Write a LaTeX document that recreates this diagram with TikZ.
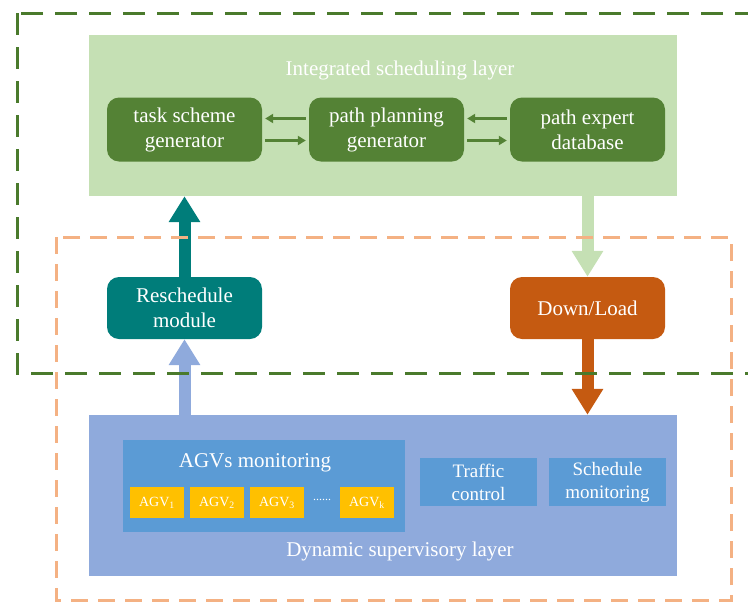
\documentclass[tikz,border=0pt]{standalone}
\usepackage{fontspec}
\setmainfont{Liberation Serif}
\newfontfamily\diagfont{Liberation Serif}
\usetikzlibrary{arrows.meta}
\definecolor{darkgreen}{HTML}{548235}
\definecolor{framegreen}{HTML}{4A7A2C}
\definecolor{palegreen}{HTML}{C5E0B4}
\definecolor{tealmod}{HTML}{007D7A}
\definecolor{burnt}{HTML}{C55A11}
\definecolor{peach}{HTML}{F4B183}
\definecolor{paleblue}{HTML}{8FAADC}
\definecolor{midblue}{HTML}{5B9BD5}
\definecolor{agvyellow}{HTML}{FFC000}
\tikzset{
  layer/.style={inner sep=0pt, minimum width=588pt, minimum height=161pt},
  module/.style={rounded corners=12pt, text=white, align=center, inner sep=0pt,
    minimum width=155pt, minimum height=64pt, font=\diagfont\fontsize{21}{25}\selectfont},
  subbox/.style={fill=midblue, text=white, align=center, inner sep=0pt},
  agvbox/.style={fill=agvyellow, text=white, inner sep=0pt, minimum width=54pt,
    minimum height=31pt, font=\diagfont\fontsize{14}{16}\selectfont},
  caption/.style={text=white, font=\diagfont\fontsize{21}{25}\selectfont},
  blockarrow/.style={line width=12pt, -{Triangle[length=26pt,width=30pt]}},
  linkarrow/.style={darkgreen, line width=2.5pt, -{Triangle[length=8pt,width=9pt]},
    shorten <=3pt, shorten >=3pt},
  frame/.style={line width=3pt}
}
\begin{document}
\begin{tikzpicture}[x=1pt, y=-1pt]
  \useasboundingbox (0,0) rectangle (748,603);
  \clip (0,0) rectangle (748,603);
  % integrated scheduling layer
  \node[layer, fill=palegreen] (intlayer) at (383,115.5) {};
  \node[caption] (inttitle) at (400,70) {Integrated scheduling layer};
  \node[module, fill=darkgreen] (task) at (184.5,129.5) {task scheme\\generator};
  \node[module, fill=darkgreen] (plan) at (386.5,129.5) {path planning\\generator};
  \node[module, fill=darkgreen] (base) at (587.5,129.5) {path expert\\database};
  \draw[linkarrow] ([yshift=11pt]plan.west) -- ([yshift=11pt]task.east);
  \draw[linkarrow] ([yshift=-11pt]task.east) -- ([yshift=-11pt]plan.west);
  \draw[linkarrow] ([yshift=11pt]base.west) -- ([yshift=11pt]plan.east);
  \draw[linkarrow] ([yshift=-11pt]plan.east) -- ([yshift=-11pt]base.west);
  % middle modules
  \node[module, fill=tealmod, minimum height=62pt] (resch) at (184.5,308) {Reschedule\\module};
  \node[module, fill=burnt, minimum height=62pt] (down) at (587.5,308) {Down/Load};
  % dynamic supervisory layer
  \node[layer, fill=paleblue] (dynlayer) at (383,495.5) {};
  \node[subbox, minimum width=282pt, minimum height=92pt] (agvmon) at (264,486) {};
  \node[caption] (agvtitle) at (255,463) {AGVs monitoring};
  \node[agvbox] (agv1) at (157,502.5) {AGV\textsubscript{1}};
  \node[agvbox] (agv2) at (217,502.5) {AGV\textsubscript{2}};
  \node[agvbox] (agv3) at (277,502.5) {AGV\textsubscript{3}};
  \node[text=white, font=\diagfont\fontsize{12}{14}\selectfont] (dots) at (322,500) {......};
  \node[agvbox] (agvk) at (367,502.5) {AGV\textsubscript{k}};
  \node[subbox, minimum width=117pt, minimum height=48pt, font=\diagfont\fontsize{19}{23}\selectfont]
    (traffic) at (478.5,482) {Traffic\\control};
  \node[subbox, minimum width=117pt, minimum height=48pt, font=\diagfont\fontsize{19}{23}\selectfont]
    (schedmon) at (607.5,482) {Schedule\\monitoring};
  \node[caption] (dyntitle) at (400,551) {Dynamic supervisory layer};
  % block arrows
  \draw[blockarrow, tealmod] (resch.north) -- (resch.north |- intlayer.south);
  \draw[blockarrow, palegreen] (down.north |- intlayer.south) -- (down.north);
  \draw[blockarrow, paleblue] (resch.south |- dynlayer.north) -- (resch.south);
  \draw[blockarrow, burnt] (down.south) -- (down.south |- dynlayer.north);
  % dashed frames
  \draw[frame, framegreen, dash pattern=on 22pt off 12pt] (17,13) rectangle (775,373);
  \draw[frame, peach, dash pattern=on 17pt off 10pt] (56,237) rectangle (731,600);
\end{tikzpicture}
\end{document}
